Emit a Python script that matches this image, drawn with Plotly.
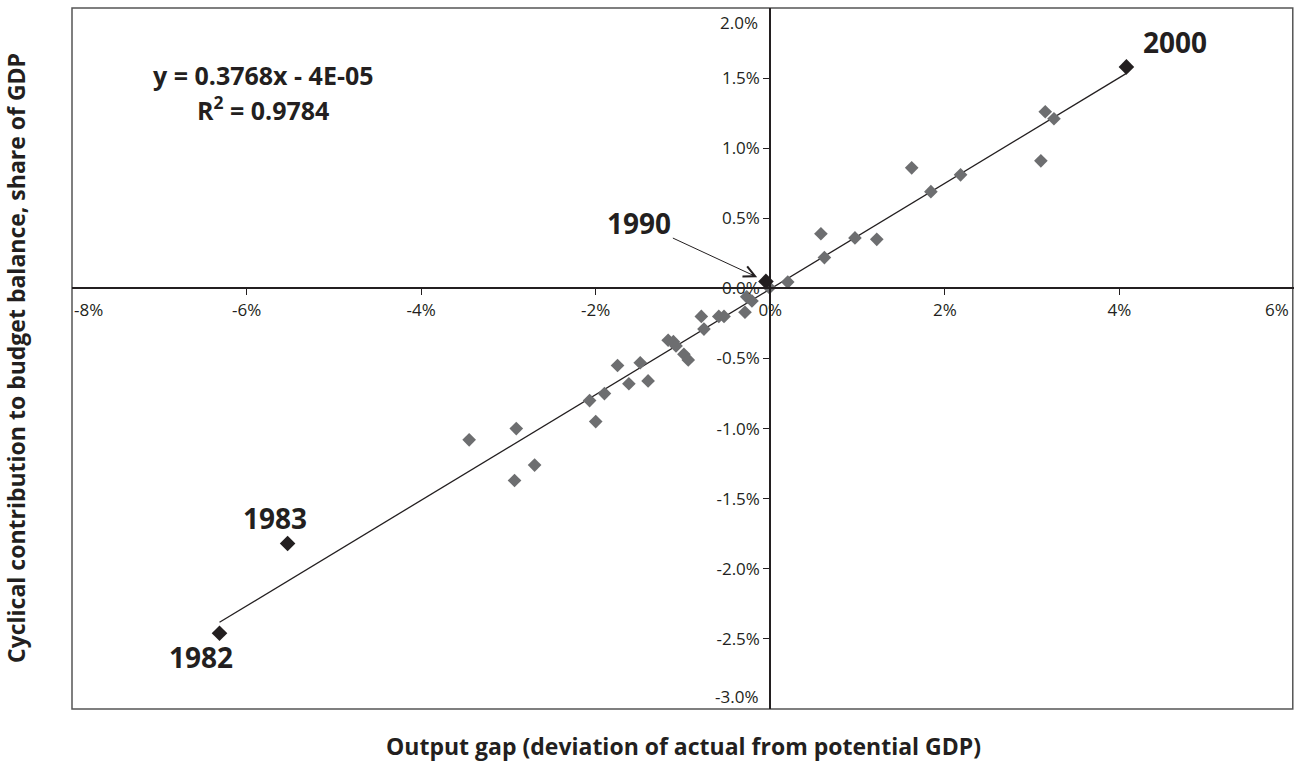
import plotly.graph_objects as go

# ---- data (percent) ----
gray_x = [-3.45, -2.91, -2.93, -2.70, -2.07, -2.00, -1.90, -1.75, -1.62, -1.49, -1.40,
          -1.17, -1.11, -1.08, -0.99, -0.94, -0.79, -0.76, -0.59, -0.53, -0.29, -0.27,
          -0.21, -0.01, 0.20, 0.58, 0.62, 0.97, 1.22, 1.62, 1.84, 2.18, 3.10, 3.15, 3.25]
gray_y = [-1.08, -1.00, -1.37, -1.26, -0.80, -0.95, -0.75, -0.55, -0.68, -0.53, -0.66,
          -0.37, -0.38, -0.41, -0.47, -0.51, -0.20, -0.29, -0.20, -0.20, -0.17, -0.06,
          -0.09, 0.005, 0.045, 0.39, 0.22, 0.36, 0.35, 0.86, 0.69, 0.81, 0.91, 1.26, 1.21]
hi_years = ["1982", "1983", "1990", "2000"]
hi_x = [-6.31, -5.53, -0.05, 4.08]
hi_y = [-2.46, -1.82, 0.05, 1.58]

slope = 0.3768
intercept_pct = -0.004  # -4E-05 as share -> percent
eq_text = "y = 0.3768x - 4E-05"
r2_text = "R<sup>2</sup> = 0.9784"

x_ticks = [-8, -6, -4, -2, 0, 2, 4, 6]
x_ticklabels = ["-8%", "-6%", "-4%", "-2%", "0%", "2%", "4%", "6%"]
y_ticks = [2.0, 1.5, 1.0, 0.5, 0.0, -0.5, -1.0, -1.5, -2.0, -2.5, -3.0]
y_ticklabels = ["2.0%", "1.5%", "1.0%", "0.5%", "0.0%", "-0.5%", "-1.0%", "-1.5%",
                "-2.0%", "-2.5%", "-3.0%"]

x_title = "Output gap (deviation of actual from potential GDP)"
y_title = "Cyclical contribution to budget balance, share of GDP"

FONT = "Open Sans"
INK = "#231f20"
TICK_SIZE = 17

all_x = gray_x + hi_x
x0, x1 = min(all_x), max(all_x)

fig = go.Figure()

fig.add_trace(go.Scatter(
    x=[x0, x1], y=[slope * x0 + intercept_pct, slope * x1 + intercept_pct],
    mode="lines", line=dict(color=INK, width=1.3), hoverinfo="skip"))
fig.add_trace(go.Scatter(
    x=gray_x, y=gray_y, mode="markers",
    marker=dict(symbol="diamond", size=10.5, color="#6d6e70")))
fig.add_trace(go.Scatter(
    x=hi_x, y=hi_y, mode="markers", text=hi_years,
    marker=dict(symbol="diamond", size=12, color=INK)))

inner_x = x_ticks[1:-1]
inner_xt = x_ticklabels[1:-1]
inner_y = y_ticks[1:-1]
inner_yt = y_ticklabels[1:-1]

fig.update_layout(
    width=1294, height=766,
    margin=dict(l=72, r=0, t=8, b=57),
    paper_bgcolor="white", plot_bgcolor="white",
    showlegend=False,
    font=dict(family=FONT, color=INK, size=TICK_SIZE),
    xaxis=dict(range=[-8, 6], tickvals=inner_x, ticktext=inner_xt,
               showgrid=False, zeroline=False, showline=True, linecolor=INK, linewidth=2,
               ticks="outside", ticklen=6, tickcolor=INK, tickwidth=1,
               anchor="free", position=0.6, tickfont=dict(size=TICK_SIZE, color=INK)),
    yaxis=dict(range=[-3, 2], tickvals=inner_y, ticktext=inner_yt,
               showgrid=False, zeroline=False, showline=True, linecolor=INK, linewidth=2,
               ticks="outside", ticklen=6, tickcolor=INK, tickwidth=1,
               anchor="free", position=8 / 14, tickfont=dict(size=TICK_SIZE, color=INK)),
)

# plot frame
fig.add_shape(type="rect", xref="paper", yref="paper", x0=0, y0=0, x1=0.999, y1=1,
              line=dict(color="#555555", width=1.5), layer="below")

ann = []
# edge tick labels, nudged inside the frame like the reference
ann.append(dict(x=x_ticks[0], y=0, xref="x", yref="y", text=x_ticklabels[0], showarrow=False,
                xanchor="left", yanchor="top", yshift=-8, xshift=0, font=dict(size=TICK_SIZE)))
ann.append(dict(x=x_ticks[-1], y=0, xref="x", yref="y", text=x_ticklabels[-1], showarrow=False,
                xanchor="right", yanchor="top", yshift=-8, xshift=-3, font=dict(size=TICK_SIZE)))
ann.append(dict(x=0, y=y_ticks[0], xref="x", yref="y", text=y_ticklabels[0], showarrow=False,
                xanchor="right", yanchor="top", xshift=-10, yshift=-1, font=dict(size=TICK_SIZE)))
ann.append(dict(x=0, y=y_ticks[-1], xref="x", yref="y", text=y_ticklabels[-1], showarrow=False,
                xanchor="right", yanchor="bottom", xshift=-10, yshift=-1, font=dict(size=TICK_SIZE)))
# equation
ann.append(dict(x=-5.81, y=1.52, xref="x", yref="y", text=eq_text, showarrow=False,
                font=dict(size=25, family=FONT, weight="bold")))
ann.append(dict(x=-5.81, y=1.285, xref="x", yref="y", text=r2_text, showarrow=False,
                font=dict(size=25, family=FONT, weight="bold")))
# year labels (1990 carries the arrow)
lab_pos = {"2000": (4.64, 1.755), "1990": (-1.50, 0.47), "1983": (-5.68, -1.64), "1982": (-6.52, -2.63)}
for yr in hi_years:
    lx, ly = lab_pos[yr]
    if yr == "1990":
        ann.append(dict(x=-0.15, y=0.08, xref="x", yref="y", ax=lx, ay=ly, axref="x", ayref="y",
                        text=yr, showarrow=True, arrowhead=5, arrowsize=2.2, arrowwidth=1,
                        arrowcolor=INK, font=dict(size=28, family=FONT, weight="bold")))
    else:
        ann.append(dict(x=lx, y=ly, xref="x", yref="y", text=yr, showarrow=False,
                        font=dict(size=28, family=FONT, weight="bold")))
# axis titles
ann.append(dict(x=0.5, y=-(746 - 709) / 701, xref="paper", yref="paper", text=f"<b>{x_title}</b>",
                showarrow=False, font=dict(size=23), xanchor="center", yanchor="middle"))
ann.append(dict(x=(16 - 72) / 1222, y=(709 - 358) / 701, xref="paper", yref="paper",
                text=f"<b>{y_title}</b>", textangle=-90, showarrow=False, font=dict(size=23),
                xanchor="center", yanchor="middle"))
fig.update_layout(annotations=ann)

fig.write_html("out.html", config={"displayModeBar": False},
               post_script="document.body.style.margin='0';")
